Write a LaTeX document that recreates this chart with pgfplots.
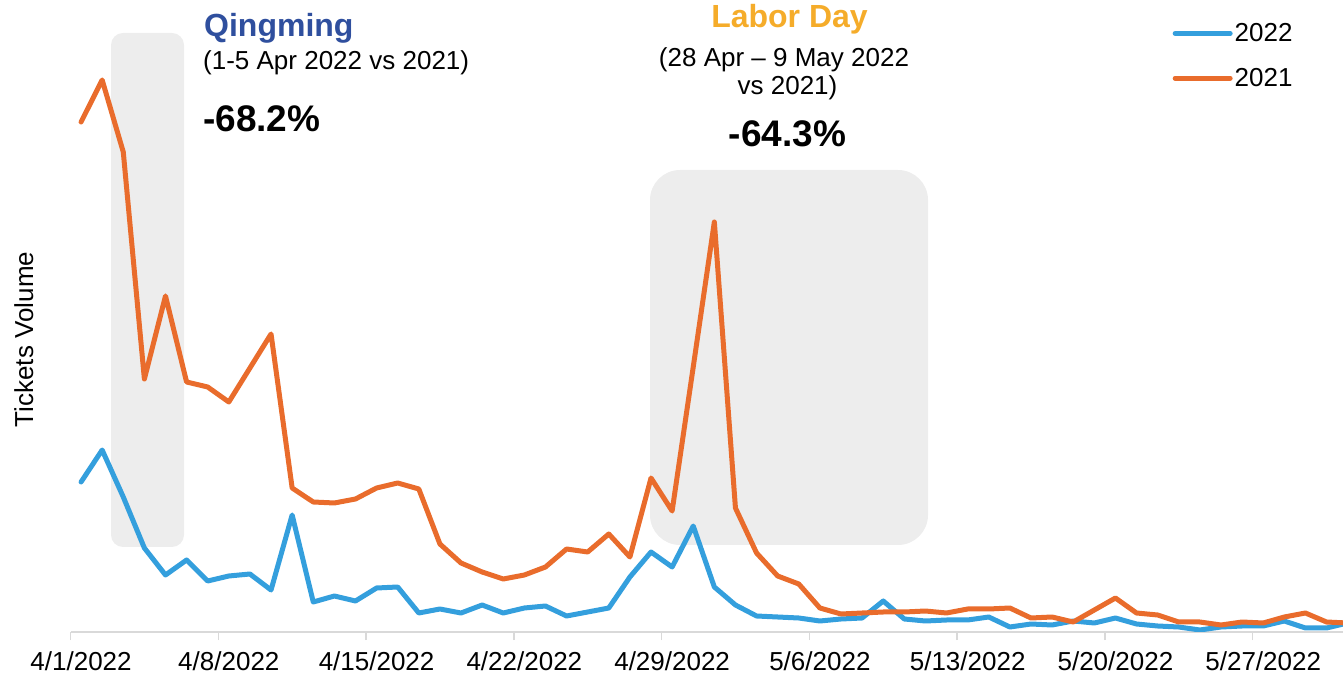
\documentclass[border=0pt]{standalone}
\usepackage{pgfplots}
\pgfplotsset{compat=1.18}
\usepackage{pgfplotstable}
\usepackage{fontspec}
\setmainfont{Liberation Sans}

\definecolor{line22}{HTML}{349FDD}
\definecolor{line21}{HTML}{E96C2C}
\definecolor{boxgray}{HTML}{EDEDED}
\definecolor{qmblue}{HTML}{2F4F9E}
\definecolor{labgold}{HTML}{F5AC2A}
\definecolor{axgray}{HTML}{D9D9D9}

\newcommand{\txt}{\fontsize{26bp}{30bp}\selectfont}
\newcommand{\ttl}{\bfseries\fontsize{32bp}{36bp}\selectfont}
\newcommand{\pct}{\bfseries\fontsize{37bp}{40bp}\selectfont}

\pgfplotsset{
  fatline/.style={legend image code/.code={\draw[##1, line width=5bp, line cap=round] (0bp,0bp) -- (55bp,0bp);}},
}

% daily tickets, 1 Apr - 31 May
\pgfplotstableread{
day y2022 y2021
0  150 510
1  182 552
2  135 480
3   84 253
4   57 336
5   72 250
6   51 245
7   56 230
8   58 264
9   42 298
10 117 144
11  30 130
12  36 129
13  31 133
14  44 144
15  45 149
16  19 143
17  23  88
18  19  69
19  27  60
20  19  53
21  24  57
22  26  65
23  16  83
24  20  80
25  24  98
26  55  75
27  80 154
28  65 121
29 106 265
30  45 410
31  27 124
32  16  79
33  15  56
34  14  48
35  11  24
36  13  18
37  14  19
38  31  20
39  13  20
40  11  21
41  12  19
42  12  23
43  15  23
44   5  24
45   8  14
46   7  15
47  11  10
48   9  22
49  14  34
50   8  19
51   6  17
52   5  10
53   2  10
54   5   7
55   6  10
56   6   9
57  11  15
58   4  19
59   4  10
60   9   9
}\ticketdata

\begin{document}
\begin{tikzpicture}[x=1bp,y=1bp]
\useasboundingbox (0,0) rectangle (1343,677);

% holiday windows
\fill[boxgray, rounded corners=12bp] (111,130) rectangle (184,644);
\fill[boxgray, rounded corners=30bp] (650,132) rectangle (928,507);

\begin{axis}[
  at={(70.5bp,45bp)}, anchor=south west,
  scale only axis, width=1272.5bp, height=632bp,
  xmin=-0.5, xmax=59.78, ymin=0, ymax=632,
  axis y line=none, axis x line*=bottom,
  x axis line style={-, draw=axgray, line width=2bp},
  xtick={0,7,...,56},
  xticklabels={4/1/2022,4/8/2022,4/15/2022,4/22/2022,4/29/2022,5/6/2022,5/13/2022,5/20/2022,5/27/2022},
  major tick length=0pt,
  minor xtick={-0.5,6.5,...,55.5},
  minor tick length=8bp,
  xtick align=outside,
  every minor tick/.style={draw=axgray, line width=1.5bp},
  xticklabel style={font=\txt, anchor=base, yshift=-39bp},
  legend style={draw=none, fill=none, at={(rel axis cs:0.866,0.966)}, anchor=north west,
    font=\txt, row sep=21bp, inner sep=0pt},
  legend cell align=left,
  fatline,
]
  \addplot[line22, line width=5bp, line join=round, line cap=round] table[x=day, y=y2022] {\ticketdata};
  \addlegendentry{2022}
  \addplot[line21, line width=5bp, line join=round, line cap=round] table[x=day, y=y2021] {\ticketdata};
  \addlegendentry{2021}
\end{axis}

\node[rotate=90, anchor=base, font=\txt, inner sep=0pt] at (33,337.5) {Tickets Volume};

\node[anchor=base west, inner sep=0pt, text=qmblue, font=\ttl] at (204,640) {Qingming};
\node[anchor=base west, inner sep=0pt, font=\txt] at (203,607) {(1-5 Apr 2022 vs 2021)};
\node[anchor=base west, inner sep=0pt, font=\pct] at (203,545) {-68.2\%};

\node[anchor=base, inner sep=0pt, text=labgold, font=\ttl] at (789.5,649) {Labor Day};
\node[anchor=base, inner sep=0pt, font=\txt] at (784,610) {(28 Apr -- 9 May 2022};
\node[anchor=base, inner sep=0pt, font=\txt] at (787.5,582) {vs 2021)};
\node[anchor=base, inner sep=0pt, font=\pct] at (787.5,530) {-64.3\%};
\end{tikzpicture}
\end{document}
